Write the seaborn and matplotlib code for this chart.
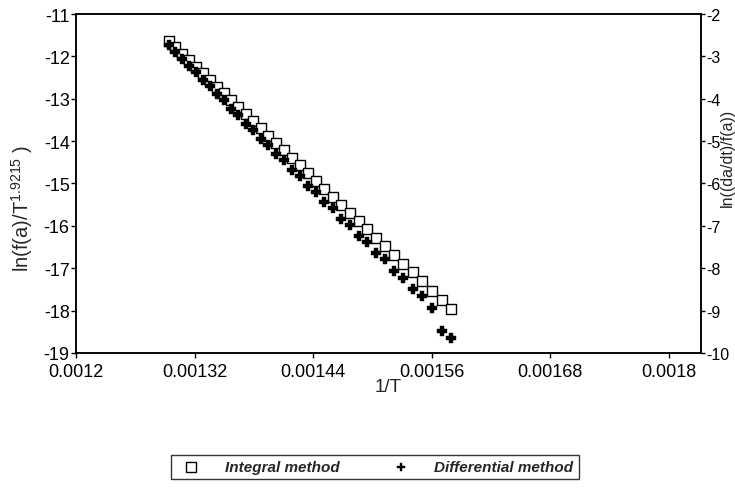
import matplotlib
matplotlib.use("Agg")
import matplotlib.pyplot as plt
import seaborn as sns
import pandas as pd

# ---- data ----
inv_T = [0.00129366, 0.00130039, 0.00130719, 0.00131406, 0.00132100, 0.00132802,
         0.00133511, 0.00134228, 0.00134953, 0.00135685, 0.00136426, 0.00137174,
         0.00137931, 0.00138696, 0.00139470, 0.00140252, 0.00141044, 0.00141844,
         0.00142653, 0.00143472, 0.00144300, 0.00145138, 0.00145985, 0.00146843,
         0.00147710, 0.00148588, 0.00149477, 0.00150376, 0.00151286, 0.00152207,
         0.00153139, 0.00154083, 0.00155039, 0.00156006, 0.00156986, 0.00157978]

integral_y = [-11.64, -11.79, -11.95, -12.09, -12.25, -12.40, -12.55, -12.72, -12.87,
              -13.04, -13.20, -13.36, -13.53, -13.70, -13.88, -14.04, -14.22, -14.40,
              -14.57, -14.76, -14.94, -15.12, -15.31, -15.50, -15.69, -15.89, -16.08,
              -16.28, -16.48, -16.69, -16.89, -17.10, -17.31, -17.53, -17.74, -17.96]

differential_y = [-2.74, -2.90, -3.06, -3.23, -3.37, -3.56, -3.71, -3.89, -4.04,
                  -4.24, -4.39, -4.59, -4.73, -4.94, -5.10, -5.31, -5.44, -5.67,
                  -5.82, -6.06, -6.20, -6.43, -6.58, -6.83, -6.97, -7.23, -7.38,
                  -7.64, -7.79, -8.06, -8.22, -8.48, -8.66, -8.93, -9.47, -9.65]

x_ticks = [0.0012, 0.00132, 0.00144, 0.00156, 0.00168, 0.0018]
x_tick_labels = ["0.0012", "0.00132", "0.00144", "0.00156", "0.00168", "0.0018"]
left_ticks = [-11, -12, -13, -14, -15, -16, -17, -18, -19]
right_ticks = [-2, -3, -4, -5, -6, -7, -8, -9, -10]

df_int = pd.DataFrame({"x": inv_T, "y": integral_y})
df_dif = pd.DataFrame({"x": inv_T, "y": differential_y})

sns.set_style("ticks")
plt.rcParams["font.family"] = ["Liberation Sans", "DejaVu Sans"]
plt.rcParams["axes.unicode_minus"] = False
plt.rcParams["mathtext.fontset"] = "custom"
plt.rcParams["mathtext.rm"] = "Liberation Sans"
plt.rcParams["mathtext.it"] = "Liberation Sans:italic"
plt.rcParams["mathtext.bf"] = "Liberation Sans:bold"

fig = plt.figure(figsize=(7.35, 4.89), dpi=100)
ax = fig.add_axes([0.1034, 0.2761, 0.8503, 0.6932])
ax2 = ax.twinx()

sns.scatterplot(data=df_int, x="x", y="y", ax=ax, marker="s", s=60,
                facecolor="white", edgecolor="black", linewidth=1.0,
                label="Integral method", legend=False, zorder=3)
sns.scatterplot(data=df_dif, x="x", y="y", ax=ax2, marker="P", s=50,
                color="black", edgecolor="black", linewidth=0.3,
                label="Differential method", legend=False, zorder=4)

ax.set_xlim(0.0012, 0.0018324)
ax.set_ylim(-19, -11)
ax2.set_ylim(-10, -2)
ax.set_xticks(x_ticks)
ax.set_xticklabels(x_tick_labels)
ax.set_yticks(left_ticks)
ax.set_yticklabels([str(v) for v in left_ticks])
ax2.set_yticks(right_ticks)
ax2.set_yticklabels([str(v) for v in right_ticks])

for a in (ax, ax2):
    for sp in a.spines.values():
        sp.set_visible(True)
        sp.set_linewidth(1.1)
        sp.set_color("black")
    a.tick_params(direction="out", length=3.5, width=1.0, labelsize=13,
                  colors="black", pad=1.0)
ax.tick_params(axis="x", pad=3.5)
ax2.tick_params(axis="y", labelsize=11.5, pad=0.5, length=3)

ax.set_xlabel("1/T", fontsize=13.5, labelpad=-1)
ax.set_ylabel(r"ln(f(a)/T$^{1.9215}$ )", fontsize=14.5)
ax.yaxis.set_label_coords(-0.066, 0.43)
ax2.set_ylabel("ln((da/dt)/f(a))", fontsize=11.5)
ax2.yaxis.set_label_coords(1.0296, 0.58)

h1, l1 = ax.get_legend_handles_labels()
h2, l2 = ax2.get_legend_handles_labels()
leg = fig.legend(h1 + h2, l1 + l2, loc="center", bbox_to_anchor=(0.51, 0.043),
                 ncol=2, frameon=True, fancybox=False, edgecolor="black",
                 prop={"weight": "bold", "style": "italic", "size": 11},
                 handletextpad=1.2, columnspacing=3.0, borderpad=0.35,
                 markerscale=0.9)
leg.get_frame().set_linewidth(1.0)

fig.savefig("out.png", dpi=100, facecolor="white")
